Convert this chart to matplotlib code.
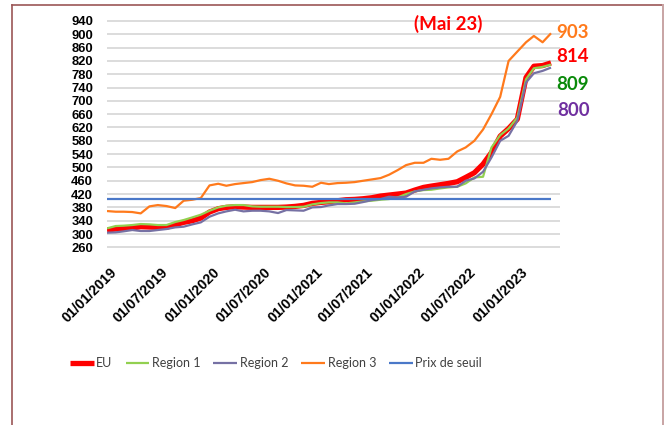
import matplotlib
matplotlib.use("Agg")
import matplotlib.pyplot as plt
import matplotlib.dates as mdates
from matplotlib.lines import Line2D
import matplotlib.transforms as mtransforms
import pandas as pd

dates = pd.date_range("2019-01-01", periods=53, freq="MS")

eu = [312, 315, 317, 318, 322, 321, 320, 320, 328, 335, 340, 348, 366, 376, 380, 382,
      381, 380, 380, 380, 380, 381, 383, 386, 392, 395, 397, 400, 403, 404, 406, 409,
      414, 417, 420, 423, 432, 440, 444, 448, 452, 457, 470, 484, 510, 545, 594, 617,
      645, 770, 804, 806, 814]
region1 = [317, 324, 325, 327, 330, 329, 327, 327, 336, 342, 350, 358, 370, 380, 385, 387,
           387, 383, 382, 382, 382, 381, 381, 382, 389, 393, 395, 395, 392, 395, 398, 400,
           403, 405, 410, 420, 428, 432, 433, 437, 440, 442, 452, 470, 472, 560, 597, 617,
           650, 765, 798, 802, 809]
region2 = [304, 305, 308, 312, 309, 309, 312, 315, 320, 322, 329, 335, 352, 362, 368, 373,
           368, 370, 370, 368, 363, 372, 371, 370, 380, 381, 386, 390, 390, 391, 396, 402,
           405, 412, 410, 412, 428, 433, 437, 440, 442, 442, 460, 467, 487, 530, 580, 595,
           640, 755, 783, 790, 800]
region3 = [369, 367, 367, 366, 362, 383, 387, 384, 378, 400, 403, 408, 446, 451, 445, 450,
           453, 456, 462, 466, 460, 452, 446, 445, 442, 454, 450, 453, 454, 456, 460, 464,
           468, 478, 492, 507, 514, 514, 526, 523, 526, 548, 560, 580, 614, 660, 712, 820,
           848, 876, 895, 876, 903]
seuil = [404] * 53

series_names = ["EU", "Region 1", "Region 2", "Region 3", "Prix de seuil"]
colors = ["#FF0000", "#92D050", "#7671A4", "#FF7A1C", "#4A78C8"]
widths = [3.8, 1.6, 1.6, 1.6, 1.6]
end_labels = ["903", "814", "809", "800"]
end_label_colors = ["#FF7A1C", "#FF0000", "#0A8A0A", "#7030A0"]
title_note = "(Mai 23)"
yticks = list(range(260, 941, 40))
xtick_dates = pd.to_datetime(["2019-01-01", "2019-07-01", "2020-01-01", "2020-07-01",
                              "2021-01-01", "2021-07-01", "2022-01-01", "2022-07-01",
                              "2023-01-01"])

W, H = 667, 425
fig = plt.figure(figsize=(W / 100, H / 100), dpi=100)
fig.patch.set_facecolor("white")

# plot area in pixels
px_left, px_right = 107, 560
px_top, px_bot = 20.3, 248.0
ax = fig.add_axes([px_left / W, 1 - px_bot / H, (px_right - px_left) / W, (px_bot - px_top) / H])
ax.set_facecolor("white")

data = [eu, region1, region2, region3, seuil]
for vals, c, lw, name in zip(data, colors, widths, series_names):
    ax.plot(dates, vals, color=c, lw=lw, label=name, solid_joinstyle="round",
            solid_capstyle="butt", zorder=3)

ax.set_ylim(258, 942)
ax.set_xlim(pd.Timestamp("2019-01-01"), pd.Timestamp("2023-06-02"))
ax.set_yticks(yticks)
ax.set_xticks(xtick_dates)
ax.xaxis.set_major_formatter(mdates.DateFormatter("%d/%m/%Y"))
ax.grid(axis="y", color="#D9D9D9", lw=1.3, zorder=0)
ax.grid(axis="x", visible=False)
for s in ax.spines.values():
    s.set_visible(False)
ax.tick_params(axis="both", length=0)
ax.tick_params(axis="y", pad=10)
ax.tick_params(axis="x", pad=12.5)
for lab in ax.get_yticklabels():
    lab.set_fontfamily("Liberation Sans")
    lab.set_fontweight("bold")
    lab.set_fontsize(9.4)
    lab.set_color("black")
shift = mtransforms.ScaledTranslation(3 / 100, 0, fig.dpi_scale_trans)
for lab in ax.get_xticklabels():
    lab.set_fontfamily("Liberation Sans")
    lab.set_fontweight("bold")
    lab.set_fontsize(10.2)
    lab.set_rotation(45)
    lab.set_ha("right")
    lab.set_va("top")
    lab.set_rotation_mode("anchor")
    lab.set_transform(lab.get_transform() + shift)

# annotations
fig.text(448 / W, 1 - 24 / H, title_note, color="#FF0000", fontsize=13.5, fontweight="bold",
         family="Lato", ha="center", va="center")
label_pos = [(556, 32), (556, 57), (556, 84), (557, 110)]
for t, c, (x, y) in zip(end_labels, end_label_colors, label_pos):
    fig.text(x / W, 1 - y / H, t, color=c, fontsize=13.5, family="Lato", ha="left",
             va="center", fontweight="bold")

# legend
handles = [Line2D([0], [0], color=c, lw=lw, solid_capstyle="butt") for c, lw in zip(colors, widths)]
leg = fig.legend(handles, series_names, loc="center", bbox_to_anchor=(276 / W, 1 - 363 / H),
                 ncol=5, frameon=False, handlelength=1.9, handletextpad=0.2,
                 columnspacing=1.05, prop={"family": "Lato", "size": 9})
for t in leg.get_texts():
    t.set_color("#404040")

# outer border
fig.add_artist(Line2D([11.5 / W, 663 / W], [1 - 4.5 / H, 1 - 4.5 / H], color="#9B5656", lw=1.2,
                      transform=fig.transFigure))
fig.add_artist(Line2D([11.5 / W, 11.5 / W], [0, 1 - 4.5 / H], color="#9B5656", lw=1.2,
                      transform=fig.transFigure))
fig.add_artist(Line2D([663 / W, 663 / W], [0, 1 - 4.5 / H], color="#C8A4A4", lw=1.4,
                      transform=fig.transFigure))

fig.savefig("out.png", dpi=100)
